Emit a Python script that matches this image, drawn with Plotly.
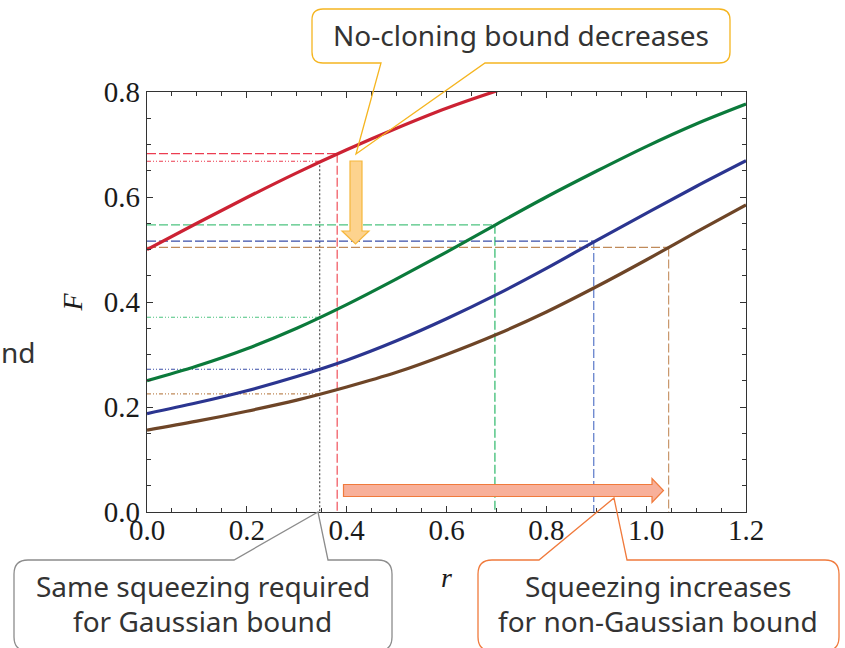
import plotly.graph_objects as go

# ---------------- data ----------------
r_grid = [0.0, 0.1, 0.2, 0.3, 0.4, 0.5, 0.6, 0.7, 0.8, 0.9, 1.0, 1.1, 1.2]
F_red = [0.500, 0.550, 0.599, 0.646, 0.690, 0.731, 0.769, 0.802, 0.832]
F_green = [0.250, 0.278, 0.311, 0.350, 0.395, 0.444, 0.495, 0.548, 0.600, 0.649, 0.696, 0.739, 0.777]
F_blue = [0.1875, 0.208, 0.231, 0.258, 0.289, 0.326, 0.368, 0.414, 0.464, 0.517, 0.569, 0.620, 0.669]
F_brown = [0.156, 0.173, 0.192, 0.213, 0.238, 0.266, 0.300, 0.338, 0.381, 0.429, 0.480, 0.533, 0.585]

# Gaussian bound: same squeezing for every curve
r_gauss = 0.346
F_gauss = [0.668, 0.371, 0.272, 0.225]          # red, green, blue, brown
# non-Gaussian bound: squeezing needed for each curve
r_nong = [0.381, 0.697, 0.895, 1.045]
F_nong = [0.6825, 0.547, 0.516, 0.504]

x_ticks = [0.0, 0.2, 0.4, 0.6, 0.8, 1.0, 1.2]
y_ticks = [0.0, 0.2, 0.4, 0.6, 0.8]

curve_colors = ["#cc2233", "#0b7a3b", "#2b3590", "#6e4527"]
hdash_colors = ["#ec3c50", "#4cc480", "#3a4ea8", "#c08a5a"]
vdash_colors = ["#f0505a", "#2db86a", "#5a78c8", "#c8966a"]

# ---------------- layout geometry ----------------
W, H = 845, 648
L, R, T, B = 147, 746, 92, 512


def P(x, y):
    return (x - L) / (R - L), (B - y) / (B - T)


def path_from(points_cmds):
    out = []
    for cmd, pts in points_cmds:
        coords = []
        for (x, y) in pts:
            px, py = P(x, y)
            coords.append(f"{px:.5f},{py:.5f}")
        out.append(cmd + " ".join(coords))
    return " ".join(out) + " Z"


def callout(x1, y1, x2, y2, rad, bl, br, tip, pointer="bottom"):
    if pointer == "bottom":
        cmds = [
            ("M", [(x1 + rad, y1)]), ("L", [(x2 - rad, y1)]),
            ("Q", [(x2, y1), (x2, y1 + rad)]), ("L", [(x2, y2 - rad)]),
            ("Q", [(x2, y2), (x2 - rad, y2)]), ("L", [(br, y2)]), ("L", [tip]),
            ("L", [(bl, y2)]), ("L", [(x1 + rad, y2)]),
            ("Q", [(x1, y2), (x1, y2 - rad)]), ("L", [(x1, y1 + rad)]),
            ("Q", [(x1, y1), (x1 + rad, y1)]),
        ]
    else:
        cmds = [
            ("M", [(x1 + rad, y1)]), ("L", [(bl, y1)]), ("L", [tip]), ("L", [(br, y1)]),
            ("L", [(x2 - rad, y1)]),
            ("Q", [(x2, y1), (x2, y1 + rad)]), ("L", [(x2, y2 - rad)]),
            ("Q", [(x2, y2), (x2 - rad, y2)]), ("L", [(x1 + rad, y2)]),
            ("Q", [(x1, y2), (x1, y2 - rad)]), ("L", [(x1, y1 + rad)]),
            ("Q", [(x1, y1), (x1 + rad, y1)]),
        ]
    return path_from(cmds)


fig = go.Figure()

# reference lines (Gaussian bound, dotted)
gauss_dash = "4px,2px,1px,2px,1px,2px"
for i, fv in enumerate(F_gauss):
    fig.add_trace(go.Scatter(x=[0, r_gauss], y=[fv, fv], mode="lines",
                             line=dict(color=hdash_colors[i], width=1.1, dash=gauss_dash),
                             hoverinfo="skip", showlegend=False))
fig.add_trace(go.Scatter(x=[r_gauss, r_gauss], y=[F_gauss[0], 0], mode="lines",
                         line=dict(color="#444444", width=1.1, dash="2px,2px"),
                         hoverinfo="skip", showlegend=False))

# reference lines (non-Gaussian bound, dashed)
for i in range(4):
    fig.add_trace(go.Scatter(x=[0, r_nong[i]], y=[F_nong[i], F_nong[i]], mode="lines",
                             line=dict(color=hdash_colors[i], width=1.2, dash="9px,3px"),
                             hoverinfo="skip", showlegend=False))
    fig.add_trace(go.Scatter(x=[r_nong[i], r_nong[i]], y=[F_nong[i], 0], mode="lines",
                             line=dict(color=vdash_colors[i], width=1.2, dash="9px,3px"),
                             hoverinfo="skip", showlegend=False))

# main curves
for ys, c in zip([F_red, F_green, F_blue, F_brown], curve_colors):
    fig.add_trace(go.Scatter(x=r_grid[:len(ys)], y=ys, mode="lines",
                             line=dict(color=c, width=3.2, shape="spline", smoothing=1.0),
                             showlegend=False))

axis_common = dict(
    showline=True, linecolor="#333333", linewidth=1.3, mirror="allticks",
    ticks="inside", ticklen=6, tickwidth=1.2, tickcolor="#333333",
    showgrid=False, zeroline=False,
    tickfont=dict(family="Liberation Serif", size=29, color="#1a1a1a"),
    minor=dict(ticks="inside", ticklen=4, tickwidth=1.0, tickcolor="#333333",
               dtick=0.05, showgrid=False),
    tickformat=".1f",
)

fig.update_layout(
    width=W, height=H,
    margin=dict(l=L, r=W - R, t=T, b=H - B),
    paper_bgcolor="white", plot_bgcolor="white",
    xaxis=dict(range=[0, 1.2], tickvals=x_ticks, ticklabelstandoff=-8,
               title=dict(text="<i>r</i>", standoff=22,
                          font=dict(family="Liberation Serif", size=28, color="#1a1a1a")),
               **axis_common),
    yaxis=dict(range=[0, 0.8], tickvals=y_ticks,
               title=dict(text="<i>F</i>", standoff=12,
                          font=dict(family="Liberation Serif", size=28, color="#1a1a1a")),
               **axis_common),
    showlegend=False,
)

shapes = []
# top callout
shapes.append(dict(type="path", xref="paper", yref="paper", layer="above",
                   path=callout(312, 9, 730, 63, 11, 381, 485, (356, 154), "bottom"),
                   line=dict(color="#f5b520", width=1.3), fillcolor="rgba(0,0,0,0)"))
# bottom-left callout
shapes.append(dict(type="path", xref="paper", yref="paper", layer="above",
                   path=callout(14, 560, 392, 651, 14, 234, 328, (318, 512), "top"),
                   line=dict(color="#8c8c8c", width=1.3), fillcolor="rgba(0,0,0,0)"))
# bottom-right callout
shapes.append(dict(type="path", xref="paper", yref="paper", layer="above",
                   path=callout(478, 560, 839, 651, 14, 539, 627, (614, 498), "top"),
                   line=dict(color="#f07a3c", width=1.3), fillcolor="rgba(0,0,0,0)"))
# yellow down arrow
shapes.append(dict(type="path", xref="paper", yref="paper", layer="above",
                   path=path_from([("M", [(350, 161)]), ("L", [(362, 161)]), ("L", [(362, 231)]),
                                   ("L", [(369, 231)]), ("L", [(355.5, 244)]), ("L", [(342, 231)]),
                                   ("L", [(350, 231)])]),
                   line=dict(color="#f6b73c", width=1.2), fillcolor="#fdd38e"))
# orange right arrow
shapes.append(dict(type="path", xref="paper", yref="paper", layer="above",
                   path=path_from([("M", [(343.5, 484.5)]), ("L", [(652, 484.5)]), ("L", [(652, 478.5)]),
                                   ("L", [(663.5, 490.5)]), ("L", [(652, 502.5)]), ("L", [(652, 496.5)]),
                                   ("L", [(343.5, 496.5)])]),
                   line=dict(color="#f07a3c", width=1.2), fillcolor="#f8b09a"))
fig.update_layout(shapes=shapes)

txt_font = dict(family="Noto Sans", size=28, color="#333333")


def note(text, x, y, xanchor="center"):
    px, py = P(x, y)
    fig.add_annotation(text=text, x=px, y=py, xref="paper", yref="paper",
                       showarrow=False, xanchor=xanchor, yanchor="middle",
                       font=txt_font, borderpad=0)


note("No-cloning bound decreases", 521, 35)
note("Same squeezing required", 203, 586)
note("for Gaussian bound", 202, 621)
note("Squeezing increases", 658, 586)
note("for non-Gaussian bound", 658, 621)
note("nd", 0, 352, xanchor="left")

fig.write_html("out.html")
